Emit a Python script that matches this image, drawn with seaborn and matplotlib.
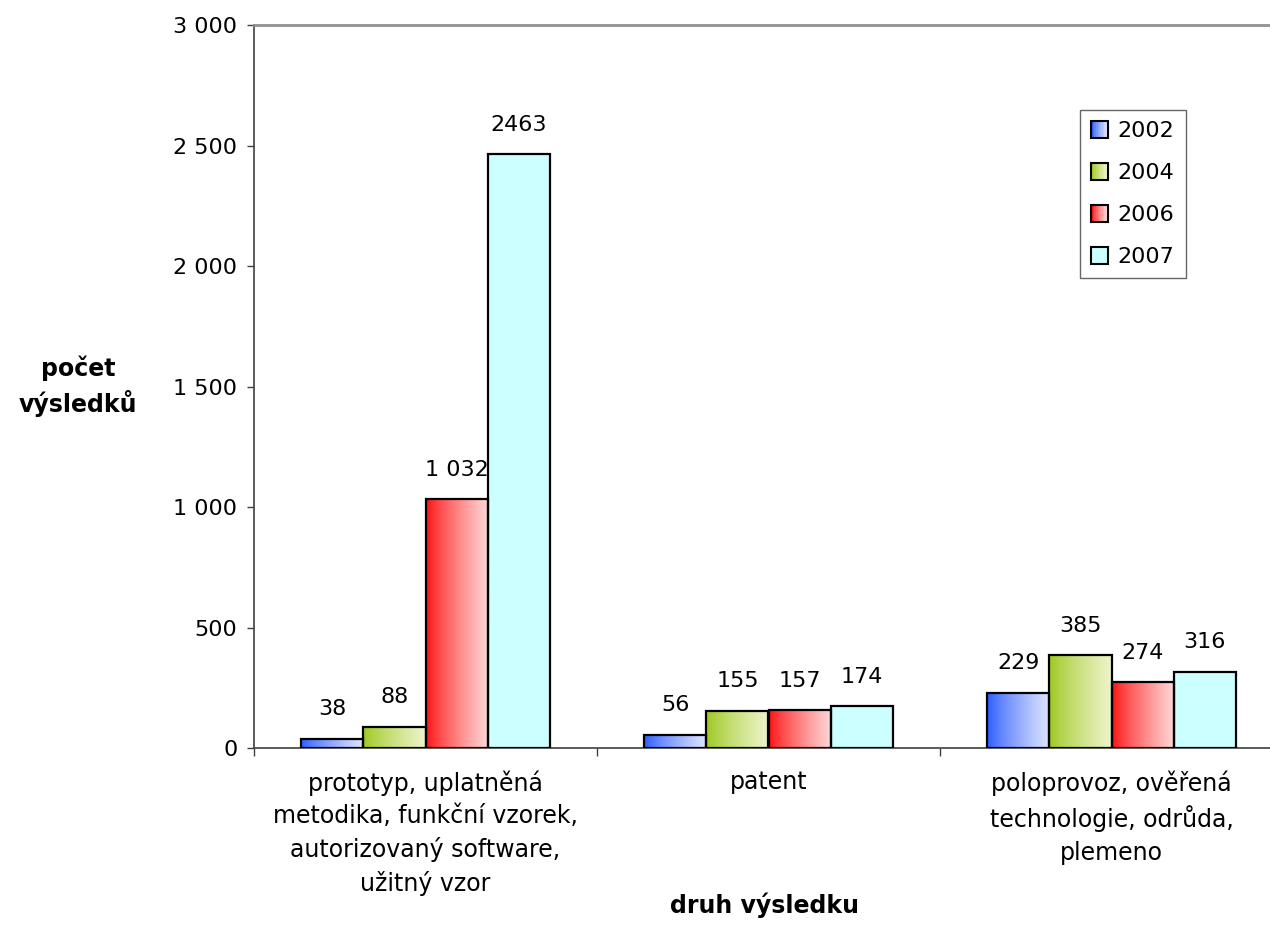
import numpy as np
import pandas as pd
import matplotlib
matplotlib.use("Agg")
import matplotlib.pyplot as plt
import seaborn as sns
from matplotlib.colors import to_rgb
from matplotlib.legend_handler import HandlerBase
from matplotlib.patches import Rectangle
from matplotlib.ticker import FuncFormatter, FixedLocator

# --- data ---
categories = [
    "prototyp, uplatněná\nmetodika, funkční vzorek,\nautorizovaný software,\nužitný vzor",
    "patent",
    "poloprovoz, ověřená\ntechnologie, odrůda,\nplemeno",
]
years = ["2002", "2004", "2006", "2007"]
values_2002 = [38, 56, 229]
values_2004 = [88, 155, 385]
values_2006 = [1032, 157, 274]
values_2007 = [2463, 174, 316]
labels_2002 = ["38", "56", "229"]
labels_2004 = ["88", "155", "385"]
labels_2006 = ["1 032", "157", "274"]
labels_2007 = ["2463", "174", "316"]

series = [values_2002, values_2004, values_2006, values_2007]
series_labels = [labels_2002, labels_2004, labels_2006, labels_2007]

# gradient (left colour, right colour) per year
gradients = {
    "2002": ("#2a5cff", "#dfe5ff"),
    "2004": ("#9cc81e", "#eef4cc"),
    "2006": ("#ff1010", "#ffd8d8"),
    "2007": ("#ccffff", "#ccffff"),
}

df = pd.DataFrame({
    "kategorie": categories * len(years),
    "rok": np.repeat(years, len(categories)),
    "pocet": np.concatenate(series),
})

sns.set_style("white")
plt.rcParams["font.family"] = ["DejaVu Sans"]
plt.rcParams["text.color"] = "black"
FS = 16

fig = plt.figure(figsize=(12.7, 9.46), dpi=100)
# plot area runs a little past the right edge of the image, as in the original
ax = fig.add_axes([254 / 1270, 1 - 748 / 946, 1029 / 1270, 723 / 946])

sns.barplot(data=df, x="kategorie", y="pocet", hue="rok", order=categories,
            hue_order=years, width=0.725, edgecolor="black", linewidth=1.6,
            legend=False, ax=ax, saturation=1)


def ramp(c0, c1, n=64):
    a = np.array(to_rgb(c0))
    b = np.array(to_rgb(c1))
    t = np.linspace(0, 1, n) ** 0.8
    return (a[None, :] * (1 - t[:, None]) + b[None, :] * t[:, None])[None, :, :]


# paint each bar with a horizontal gradient clipped to the bar
for year, cont in zip(years, ax.containers):
    img = ramp(*gradients[year])
    for bar in cont:
        bar.set_facecolor("none")
        bar.set_zorder(3)
        x, w, h = bar.get_x(), bar.get_width(), bar.get_height()
        im = ax.imshow(img, extent=[x, x + w, 0, h], aspect="auto",
                       zorder=2, interpolation="bilinear")
        im.set_clip_path(bar)

for cont, labs in zip(ax.containers, series_labels):
    ax.bar_label(cont, labels=labs, padding=14, fontsize=FS, color="black")

ax.set_xlim(-0.5, 2.5)
ax.set_ylim(0, 3000)
ax.set_yticks(range(0, 3001, 500))
ax.yaxis.set_major_formatter(FuncFormatter(lambda v, p: f"{int(v):,}".replace(",", " ")))
ax.tick_params(axis="y", direction="out", length=5, width=1, color="#404040",
               labelsize=FS, labelcolor="black", pad=7, left=True)
ax.xaxis.set_minor_locator(FixedLocator([-0.5, 0.5, 1.5, 2.5]))
ax.tick_params(axis="x", which="minor", direction="out", length=6, width=1,
               color="#404040", bottom=True)
ax.tick_params(axis="x", which="major", length=0, labelsize=17,
               labelcolor="black", pad=16)
for t in ax.get_xticklabels():
    t.set_linespacing(1.45)
    t.set_verticalalignment("top")
ax.set_xlabel("")
ax.set_ylabel("")

for s in ["left", "bottom"]:
    ax.spines[s].set_color("#404040")
    ax.spines[s].set_linewidth(1.2)
ax.spines["top"].set_visible(True)
ax.spines["top"].set_color("#909090")
ax.spines["top"].set_linewidth(2)
ax.spines["right"].set_visible(False)

fig.text(78 / 1270, 1 - 386 / 946, "počet\nvýsledků", ha="center", va="center",
         fontsize=17, fontweight="bold", linespacing=1.4)
fig.text(764 / 1270, 1 - 905 / 946, "druh výsledku", ha="center", va="center",
         fontsize=17, fontweight="bold")


# legend with small gradient squares
class GradHandler(HandlerBase):
    def create_artists(self, legend, orig_handle, xdescent, ydescent, width,
                       height, fontsize, trans):
        c0, c1 = gradients[orig_handle.get_label()]
        n = 10
        arts = []
        x0, y0 = -xdescent, -ydescent
        cols = ramp(c0, c1, n)[0]
        for i in range(n):
            arts.append(Rectangle((x0 + i * width / n, y0), width / n, height,
                                  facecolor=cols[i], edgecolor="none",
                                  transform=trans))
        arts.append(Rectangle((x0, y0), width, height, facecolor="none",
                              edgecolor="black", linewidth=1.5, transform=trans))
        return arts


handles = [Rectangle((0, 0), 1, 1, label=y) for y in years]
leg = ax.legend(handles=handles, labels=years, loc="upper left",
                bbox_to_anchor=((1080 - 254) / 1029, 0.8824), borderaxespad=0,
                fontsize=FS, frameon=True, fancybox=False, edgecolor="#404040",
                handlelength=0.75, handleheight=0.75, handletextpad=0.45,
                labelspacing=0.99, borderpad=0.5,
                handler_map={Rectangle: GradHandler()})
leg.get_frame().set_linewidth(1)

fig.savefig("out.png", dpi=100, facecolor="white")
